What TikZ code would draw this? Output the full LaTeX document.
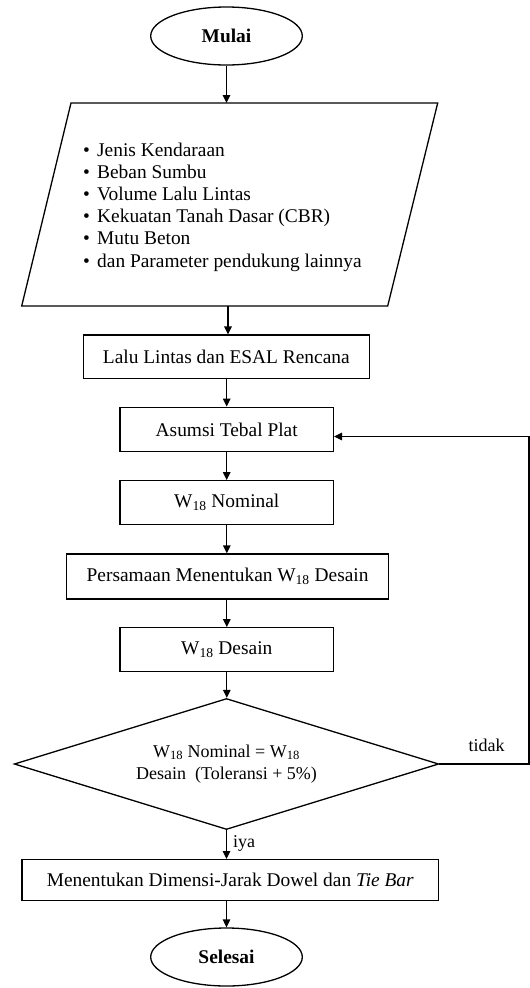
\documentclass[tikz,border=0pt]{standalone}
\usepackage{fontspec}
\setmainfont{Liberation Serif}
\usetikzlibrary{shapes.geometric,arrows.meta}
\begin{document}
\begin{tikzpicture}[x=1pt,y=-1pt,
  every node/.style={font=\fontsize{19.4}{22.2}\selectfont, inner sep=0pt},
  line/.style={line width=1.3pt},
  arr/.style={line width=1.3pt,-{Triangle[length=8pt,width=7.5pt]}},
  terminal/.style={ellipse,draw,line width=1.3pt,minimum width=151.6pt,minimum height=58pt,font=\fontsize{19.4}{22.2}\selectfont\bfseries},
  procbox/.style={rectangle,draw,line width=1.3pt},
  decision/.style={diamond,draw,line width=1.3pt,aspect=3.24,align=center,font=\fontsize{18}{22}\selectfont},
  lbl/.style={font=\fontsize{18}{22}\selectfont}
]
\useasboundingbox (0,0) rectangle (530,988);
% start
\node[terminal] (mulai) at (226.5,36) {Mulai};
% input parallelogram
\draw[line] (71,103) -- (437.7,103) -- (387.7,306) -- (21.7,306) -- cycle;
\coordinate (inTop) at (226.7,103);
\coordinate (inBot) at (228,306);
\node[anchor=west,align=left] (inp) at (83,207) {%
\makebox[14pt][l]{•}Jenis Kendaraan\\
\makebox[14pt][l]{•}Beban Sumbu\\
\makebox[14pt][l]{•}Volume Lalu Lintas\\
\makebox[14pt][l]{•}Kekuatan Tanah Dasar (CBR)\\
\makebox[14pt][l]{•}Mutu Beton\\
\makebox[14pt][l]{•}dan Parameter pendukung lainnya};
% process boxes
\node[procbox,minimum width=286pt,minimum height=43.3pt] (lalu) at (226.3,356.7) {Lalu Lintas dan ESAL Rencana};
\node[procbox,minimum width=213.3pt,minimum height=44.4pt] (asumsi) at (226.7,429.5) {Asumsi Tebal Plat};
\node[procbox,minimum width=213.6pt,minimum height=43.6pt] (nom) at (226.8,502.5) {W\textsubscript{18} Nominal};
\node[procbox,minimum width=322pt,minimum height=45pt] (pers) at (227.6,576.5) {Persamaan Menentukan W\textsubscript{18} Desain};
\node[procbox,minimum width=213.6pt,minimum height=44pt] (des) at (226.8,649.7) {W\textsubscript{18} Desain};
\node[decision,minimum width=424.5pt,minimum height=131pt] (cek) at (226.5,764) {W\textsubscript{18} Nominal = W\textsubscript{18}\\Desain\ \ (Toleransi + 5\%)};
\node[procbox,minimum width=416.7pt,minimum height=41pt] (dim) at (230.3,880.2) {Menentukan Dimensi-Jarak Dowel dan \textit{Tie Bar}};
\node[terminal] (selesai) at (226.5,957) {Selesai};
% labels
\node[lbl] (tidak) at (486.7,745) {tidak};
\node[lbl] (iya) at (244,843) {iya};
% connectors
\draw[arr] (mulai.south) -- (mulai.south |- inTop);
\draw[arr] (inBot) -- (inBot |- lalu.north);
\draw[arr] (lalu.south -| asumsi.north) -- (asumsi.north);
\draw[arr] (asumsi.south) -- (asumsi.south |- nom.north);
\draw[arr] (nom.south) -- (nom.south |- pers.north);
\draw[arr] (nom.south |- pers.south) -- (nom.south |- des.north);
\draw[arr] (des.south) -- (des.south |- cek.north);
\draw[arr] (cek.south) -- (cek.south |- dim.north);
\draw[arr] (cek.south |- dim.south) -- (cek.south |- selesai.north);
\coordinate (fb) at (529,764);
\draw[arr] (cek.east) -- (fb) |- ([yshift=-7pt]asumsi.east);
\end{tikzpicture}
\end{document}
